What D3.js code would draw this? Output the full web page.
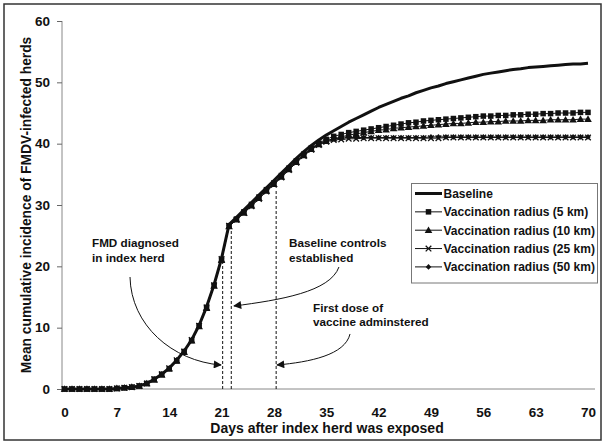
<!DOCTYPE html>
<html><head><meta charset="utf-8">
<script src="https://cdn.jsdelivr.net/npm/d3@7"></script>
<style>body{margin:0;background:#fff}svg{display:block}text{font-family:"Liberation Sans",Arial,sans-serif;font-weight:bold;fill:#111}</style>
</head><body>
<script>
const days = [0,1,2,3,4,5,6,7,8,9,10,11,12,13,14,15,16,17,18,19,20,21,22,23,24,25,26,27,28,29,30,31,32,33,34,35,36,37,38,39,40,41,42,43,44,45,46,47,48,49,50,51,52,53,54,55,56,57,58,59,60,61,62,63,64,65,66,67,68,69,70];
const baseline = [0,0,0,0,0,0,0,0.1,0.2,0.3,0.5,0.9,1.6,2.4,3.4,4.7,6.2,8.0,10.4,13.4,17.0,21.3,26.8,28.0,29.2,30.4,31.6,32.8,34.0,35.2,36.4,37.6,38.7,39.7,40.6,41.4,42.1,42.8,43.5,44.1,44.7,45.3,45.9,46.4,46.9,47.4,47.8,48.3,48.7,49.1,49.4,49.8,50.1,50.4,50.7,51.0,51.3,51.5,51.7,51.9,52.1,52.2,52.4,52.5,52.6,52.7,52.8,52.9,53.0,53.0,53.1];
const vac5 = [0,0,0,0,0,0,0,0.1,0.2,0.3,0.5,0.9,1.6,2.4,3.3,4.6,6.1,7.9,10.3,13.3,16.9,21.1,26.6,27.7,28.9,30.1,31.3,32.5,33.6,34.8,36.0,37.2,38.3,39.3,40.1,40.7,41.2,41.5,41.8,42.0,42.2,42.4,42.6,42.8,43.0,43.2,43.4,43.5,43.7,43.8,43.9,44.0,44.1,44.2,44.3,44.4,44.5,44.5,44.6,44.6,44.7,44.7,44.8,44.8,44.9,44.9,45.0,45.0,45.0,45.1,45.1];
const vac10 = [0,0,0,0,0,0,0,0.1,0.2,0.3,0.5,0.9,1.5,2.3,3.3,4.6,6.0,7.9,10.2,13.2,16.8,21.0,26.5,27.6,28.7,29.9,31.1,32.3,33.4,34.6,35.8,37.0,38.1,39.1,39.9,40.4,40.8,41.1,41.4,41.6,41.8,42.0,42.2,42.3,42.5,42.6,42.7,42.8,42.9,43.0,43.1,43.2,43.3,43.3,43.4,43.5,43.5,43.6,43.6,43.7,43.7,43.7,43.8,43.8,43.8,43.9,43.9,43.9,43.9,44.0,44.0];
const vac25 = [0,0,0,0,0,0,0,0.1,0.2,0.3,0.5,0.9,1.6,2.4,3.4,4.7,6.1,8.0,10.3,13.3,16.9,21.2,26.6,27.6,28.7,29.8,31.0,32.2,33.3,34.5,35.7,36.9,38.0,39.0,39.8,40.3,40.6,40.7,40.8,40.8,40.9,40.9,40.9,40.9,40.9,40.9,40.9,40.9,40.9,40.9,40.9,41.0,41.0,41.0,41.0,41.0,41.0,41.0,41.0,41.0,41.0,41.0,41.0,41.0,41.0,41.0,41.0,41.0,41.0,41.0,41.0];
const vac50 = [0,0,0,0,0,0,0,0.1,0.2,0.3,0.5,0.9,1.6,2.4,3.4,4.7,6.2,8.0,10.4,13.4,17.0,21.3,26.7,27.8,28.9,30.1,31.3,32.4,33.5,34.7,35.9,37.1,38.2,39.2,40.0,40.5,40.8,40.9,41.0,41.0,41.0,41.0,41.0,41.0,41.0,41.0,41.0,41.0,41.0,41.1,41.1,41.1,41.1,41.1,41.1,41.1,41.1,41.1,41.1,41.1,41.1,41.1,41.1,41.1,41.1,41.1,41.1,41.1,41.1,41.1,41.1];
const seriesNames = ["Baseline","Vaccination radius (5 km)","Vaccination radius (10 km)","Vaccination radius (25 km)","Vaccination radius (50 km)"];
const seriesMarkers = ["none","square","triangle","cross","diamond"];
const xTicks = [0,7,14,21,28,35,42,49,56,63,70];
const yTicks = [0,10,20,30,40,50,60];
const eventDays = [21.15, 22.3, 28.3];
const eventTops = [21.6, 26.6, 32.4];
const xTitle = "Days after index herd was exposed";
const yTitle = "Mean cumulative incidence of FMDV-infected herds";
// annotation arrows, in data units [day, value]
const arrowPaths = [
  [[8.76,18.26],[8.89,10.43],[14.37,4.57],[20.93,3.91]],
  [[36.70,19.89],[35.50,15.82],[28.82,14.51],[22.66,13.53]],
  [[38.18,8.97],[37.51,5.54],[32.83,4.40],[28.41,3.91]]
];
const notes = [
  {x:92, y:[247,262], lines:["FMD diagnosed","in index herd"]},
  {x:289, y:[247,262], lines:["Baseline controls","established"]},
  {x:313, y:[312,326], lines:["First dose of","vaccine adminstered"]}
];

const W=605,H=444;
const svg=d3.select("body").append("svg").attr("width",W).attr("height",H);
svg.append("rect").attr("x",4).attr("y",4).attr("width",597).attr("height",436)
  .attr("fill","#fff").attr("stroke","#333").attr("stroke-width",1.5);

const x=d3.scaleLinear().domain([0,70]).range([64.5,588]);
const y=d3.scaleLinear().domain([0,60]).range([389,21]);

const yAxis=svg.append("g").attr("transform","translate(62,0)")
  .call(d3.axisLeft(y).tickValues(yTicks).tickSize(5).tickPadding(7).tickFormat(d3.format("d")));
yAxis.select(".domain").attr("stroke","#888").attr("d","M0,21V389");
yAxis.selectAll(".tick line").attr("stroke","#666");
yAxis.selectAll("text").attr("font-size",13.5).attr("fill","#111").attr("font-family","Liberation Sans, Arial, sans-serif").attr("font-weight","bold");

const xAxis=svg.append("g").attr("transform","translate(0,389)")
  .call(d3.axisBottom(x).tickValues(xTicks).tickSize(0).tickPadding(18).tickFormat(d3.format("d")));
xAxis.select(".domain").attr("stroke","#888").attr("d","M62,0H595");
xAxis.selectAll("text").attr("font-size",13.5).attr("fill","#111").attr("font-family","Liberation Sans, Arial, sans-serif").attr("font-weight","bold");

svg.append("text").attr("x",327).attr("y",433).attr("text-anchor","middle").attr("font-size",14).text(xTitle);
svg.append("text").attr("transform","translate(31,205) rotate(-90)").attr("text-anchor","middle").attr("font-size",13.8).text(yTitle);

eventDays.forEach((d,i)=>{
  svg.append("line").attr("x1",x(d)).attr("x2",x(d)).attr("y1",y(0)).attr("y2",y(eventTops[i]))
    .attr("stroke","#111").attr("stroke-width",1).attr("stroke-dasharray","3,2");
});

function drawMarker(g,type,cx,cy){
  if(type==="square"){
    const s=5.5;
    g.append("rect").attr("x",cx-s/2).attr("y",cy-s/2).attr("width",s).attr("height",s).attr("fill","#111");
  } else if(type==="triangle"){
    const s=3.8;
    g.append("path").attr("d",`M${cx},${cy-s}L${cx+s},${cy+s*0.75}L${cx-s},${cy+s*0.75}Z`).attr("fill","#111");
  } else if(type==="cross"){
    const s=2.8;
    g.append("path").attr("d",`M${cx-s},${cy-s}L${cx+s},${cy+s}M${cx-s},${cy+s}L${cx+s},${cy-s}`).attr("stroke","#111").attr("stroke-width",1.3);
  } else if(type==="diamond"){
    const s=2.8;
    g.append("path").attr("d",`M${cx},${cy-s}L${cx+s},${cy}L${cx},${cy+s}L${cx-s},${cy}Z`).attr("fill","#111");
  }
}

const allSeries=[baseline,vac5,vac10,vac25,vac50];
const line=d3.line().x((d,i)=>x(days[i])).y(d=>y(d));
allSeries.forEach((vals,k)=>{
  const g=svg.append("g");
  g.append("path").datum(vals).attr("d",line).attr("fill","none").attr("stroke","#111")
    .attr("stroke-width",k===0?3:1).attr("stroke-linejoin","round");
  if(seriesMarkers[k]!=="none"){
    vals.forEach((v,i)=>drawMarker(g,seriesMarkers[k],x(days[i]),y(v)));
  }
});

const defs=svg.append("defs");
defs.append("marker").attr("id","ah").attr("viewBox","0 0 10 10").attr("refX",9).attr("refY",5)
  .attr("markerWidth",9).attr("markerHeight",8).attr("markerUnits","userSpaceOnUse").attr("orient","auto")
  .append("path").attr("d","M0,0L10,5L0,10Z").attr("fill","#111");
arrowPaths.forEach(p=>{
  const P=p.map(q=>[x(q[0]),y(q[1])]);
  svg.append("path").attr("d",`M${P[0][0]},${P[0][1]}C${P[1][0]},${P[1][1]} ${P[2][0]},${P[2][1]} ${P[3][0]},${P[3][1]}`)
    .attr("fill","none").attr("stroke","#111").attr("stroke-width",1).attr("marker-end","url(#ah)");
});

notes.forEach(n=>{
  n.lines.forEach((t,i)=>svg.append("text").attr("x",n.x).attr("y",n.y[i]).attr("font-size",11.7).text(t));
});

const lg=svg.append("g");
lg.append("rect").attr("x",411.5).attr("y",183.5).attr("width",186).attr("height",99.5)
  .attr("fill","#fff").attr("stroke","#777").attr("stroke-width",1);
seriesNames.forEach((name,k)=>{
  const cy=193.5+k*18.35;
  lg.append("line").attr("x1",415).attr("x2",442).attr("y1",cy).attr("y2",cy)
    .attr("stroke","#111").attr("stroke-width",k===0?3:1);
  if(seriesMarkers[k]!=="none") drawMarker(lg,seriesMarkers[k],428.5,cy);
  lg.append("text").attr("x",443.5).attr("y",cy+4.3).attr("font-size",12).text(name);
});
</script>
</body></html>
